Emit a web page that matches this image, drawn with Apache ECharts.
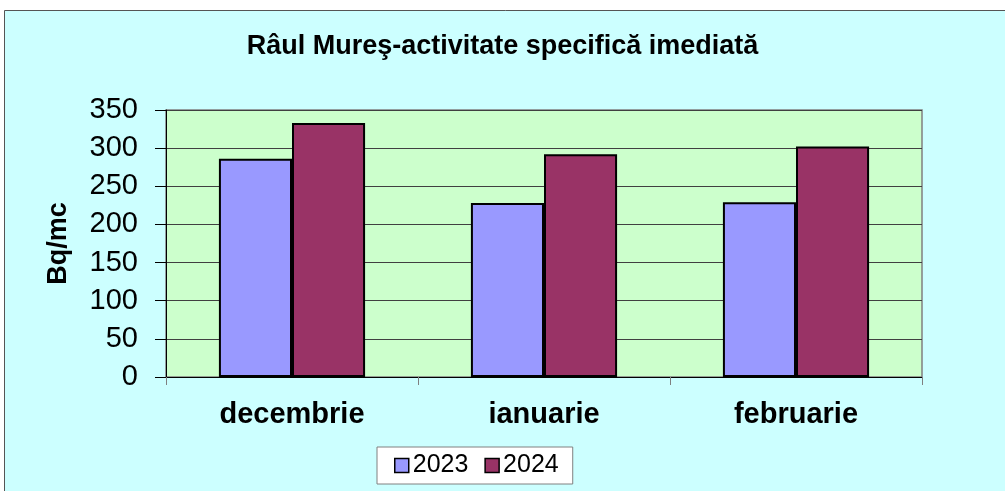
<!DOCTYPE html>
<html>
<head>
<meta charset="utf-8">
<script src="https://cdn.jsdelivr.net/npm/echarts@6/dist/echarts.min.js"></script>
<style>
  html, body { margin: 0; padding: 0; background: #fff; }
  #chart { width: 1005px; height: 491px; }
</style>
</head>
<body>
<div id="chart"></div>
<script>
  const months = ['decembrie', 'ianuarie', 'februarie'];
  const years = ['2023', '2024'];
  const values2023 = [286, 228, 229];
  const values2024 = [333, 292, 302];
  const yTicks = [0, 50, 100, 150, 200, 250, 300, 350];

  const font = '"Liberation Sans", Arial, sans-serif';
  const myChart = echarts.init(document.getElementById('chart'));

  const option = {
    backgroundColor: '#fff',
    animation: false,
    graphic: [
      {
        type: 'rect',
        z: -10,
        shape: { x: 4.5, y: 10.5, width: 1010, height: 500 },
        style: { fill: '#ccffff', stroke: '#555', lineWidth: 1 }
      }
    ],
    title: {
      text: 'Râul Mureş-activitate specifică imediată',
      left: 'center',
      top: 28,
      textStyle: { fontFamily: font, fontSize: 27, fontWeight: 'bold', color: '#000' }
    },
    legend: {
      data: years,
      left: 377,
      top: 447,
      backgroundColor: '#fff',
      borderColor: '#808080',
      borderWidth: 1,
      padding: [6, 14, 6, 17],
      itemGap: 16,
      itemWidth: 14,
      itemHeight: 14,
      icon: 'rect',
      itemStyle: { borderColor: '#000', borderWidth: 1.5 },
      textStyle: { fontFamily: font, fontSize: 25, color: '#000', padding: [0, 0, 0, -1] }
    },
    grid: {
      left: 166,
      top: 110,
      right: 83,
      bottom: 114,
      show: true,
      backgroundColor: '#ccffcc',
      borderColor: '#808080',
      borderWidth: 1.5
    },
    xAxis: {
      type: 'category',
      data: months,
      axisLine: { lineStyle: { color: '#000', width: 1 } },
      axisTick: { show: true, length: 8, lineStyle: { color: '#808080' } },
      axisLabel: {
        fontFamily: font, fontSize: 29, fontWeight: 'bold', color: '#000', margin: 23
      }
    },
    yAxis: {
      type: 'value',
      min: yTicks[0],
      max: yTicks[yTicks.length - 1],
      interval: 50,
      name: 'Bq/mc',
      nameLocation: 'middle',
      nameGap: 94,
      nameTextStyle: { fontFamily: font, fontSize: 27, fontWeight: 'bold', color: '#000' },
      axisLine: { show: true, lineStyle: { color: '#000', width: 1 } },
      axisTick: { show: true, length: 11, lineStyle: { color: '#000' } },
      axisLabel: { fontFamily: font, fontSize: 29, color: '#000', margin: 28 },
      splitLine: { lineStyle: { color: '#404040', width: 1 } }
    },
    series: [
      {
        name: years[0],
        type: 'bar',
        data: values2023,
        barGap: '0%',
        barCategoryGap: '42%',
        itemStyle: { color: '#9999ff', borderColor: '#000', borderWidth: 2 }
      },
      {
        name: years[1],
        type: 'bar',
        data: values2024,
        itemStyle: { color: '#993366', borderColor: '#000', borderWidth: 2 }
      }
    ]
  };

  myChart.setOption(option);
</script>
</body>
</html>
